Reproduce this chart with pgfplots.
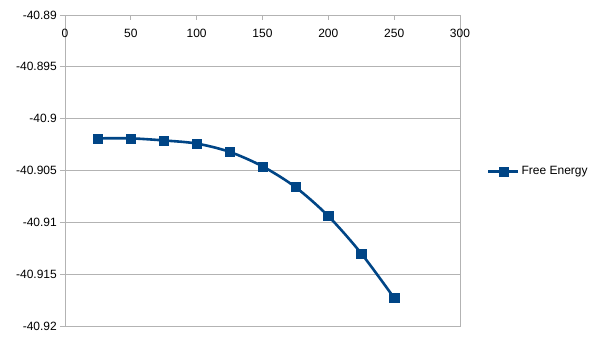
\documentclass[border=0pt]{standalone}
\usepackage{pgfplots}
\pgfplotsset{compat=1.18}
\usepackage{fontspec}
\setmainfont{Liberation Sans}
\definecolor{ser}{HTML}{004586}
\definecolor{gridc}{HTML}{B3B3B3}
\begin{document}
\fontsize{12bp}{14bp}\selectfont
\begin{tikzpicture}
\path[use as bounding box] (-65bp,-14bp) rectangle (540bp,326bp);
\begin{axis}[
  at={(0,0)}, anchor=south west,
  scale only axis, width=395bp, height=311bp,
  xmin=0, xmax=300, ymin=-40.92, ymax=-40.89,
  xtick={0,50,...,300},
  ytick={-40.92,-40.915,-40.91,-40.905,-40.9,-40.895,-40.89},
  yticklabels={-40.92,-40.915,-40.91,-40.905,-40.9,-40.895,-40.89},
  xtick pos=upper, xticklabel pos=upper,
  ytick pos=left,
  x tick style={gridc, line width=0.8bp},
  xtick align=inside,
  y tick style={gridc, line width=0.8bp},
  ytick align=outside,
  major tick length=5bp,
  xticklabel style={anchor=north, yshift=-10bp, font=\fontsize{12bp}{14bp}\selectfont},
  yticklabel style={font=\fontsize{12bp}{14bp}\selectfont, xshift=1bp},
  /pgf/number format/assume math mode=true,
  ymajorgrids, grid style={gridc, line width=0.8bp},
  axis line style={gridc, line width=0.8bp},
  legend style={draw=none, fill=none, at={(1.068,0.496)}, anchor=west,
    font=\fontsize{12bp}{14bp}\selectfont, inner sep=0pt,
    legend cell align=left},
  legend image code/.code={\draw[mark repeat=2,mark phase=2] plot coordinates {(0bp,0bp)(15bp,0bp)(30bp,0bp)};},
  clip=false,
]
\addplot[ser, line width=2.6bp, smooth, mark=square*, mark size=4.6bp,
  mark options={fill=ser, draw=ser, line width=0.5bp}] coordinates {
(25,-40.9019)
(50,-40.9019)
(75,-40.9021)
(100,-40.9024)
(125,-40.9032)
(150,-40.9046)
(175,-40.9066)
(200,-40.9094)
(225,-40.9130)
(250,-40.9173)
};
\addlegendentry{Free Energy}
\end{axis}
\end{tikzpicture}
\end{document}
